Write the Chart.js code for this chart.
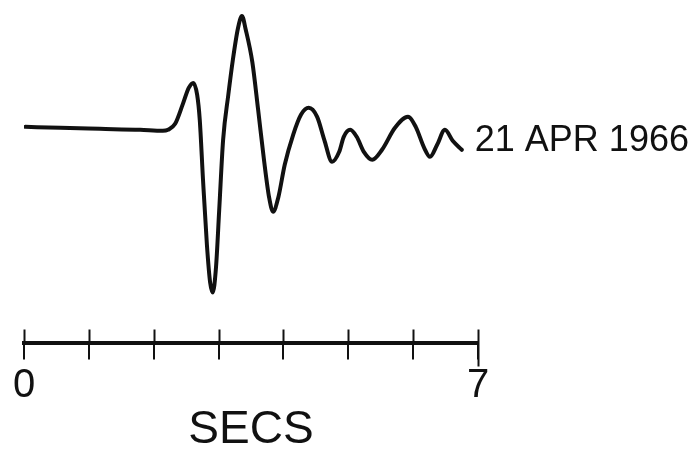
<!DOCTYPE html>
<html>
<head>
<meta charset="utf-8">
<script src="https://cdn.jsdelivr.net/npm/chart.js@4"></script>
<style>
  html, body { margin: 0; padding: 0; background: #ffffff; }
  #wrap { width: 698px; height: 454px; position: relative; }
</style>
</head>
<body>
<div id="wrap"><canvas id="c" width="698" height="454"></canvas></div>
<script>
// ---- data (time in seconds, amplitude in arbitrary units, baseline = 0)
const timeSecs = [0.02, 0.56, 1.17, 1.79, 2.14, 2.22, 2.33, 2.45, 2.54, 2.61, 2.67, 2.71, 2.76, 2.82, 2.87, 2.91,
  2.96, 3.01, 3.07, 3.15, 3.22, 3.30, 3.36, 3.42, 3.52, 3.61, 3.70, 3.78, 3.84, 3.92, 4.02, 4.15, 4.27, 4.39,
  4.52, 4.63, 4.75, 4.86, 4.93, 5.03, 5.13, 5.24, 5.37, 5.52, 5.72, 5.92, 6.04, 6.17, 6.26, 6.37, 6.49, 6.61, 6.75];
const amplitude = [1, 0, -1, -2, -3, -2, 4, 24, 40, 45, 33, 8, -52, -117, -155, -165,
  -140, -82, -12, 33, 68, 100, 112, 98, 66, 18, -32, -70, -84, -70, -37, -7, 13, 20,
  11, -12, -34, -24, -9, -2, -9, -24, -32, -22, 0, 11, 1, -20, -29, -17, -2, -13, -22];
const tickSeconds = [0, 1, 2, 3, 4, 5, 6, 7];
const tickLabels = ['0', '', '', '', '', '', '', '7'];
const eventLabel = '21 APR 1966';
const axisTitle = 'SECS';

const points = timeSecs.map((t, i) => ({ x: t, y: amplitude[i] }));

const scaleBarPlugin = {
  id: 'scaleBar',
  afterDraw(chart) {
    const ctx = chart.ctx;
    const xs = chart.scales.x;
    const ys = chart.scales.y;
    ctx.save();
    ctx.strokeStyle = '#111';
    ctx.lineWidth = 2;
    tickSeconds.forEach(v => {
      const px = Math.round(xs.getPixelForValue(v)) + 0.5;
      ctx.beginPath();
      ctx.moveTo(px, xs.top - 13);
      ctx.lineTo(px, xs.top + (v === 7 ? 24 : 0));
      ctx.stroke();
    });
    // event date label next to the end of the trace
    const last = points[points.length - 1];
    const lx = xs.getPixelForValue(last.x) + 13;
    const ly = ys.getPixelForValue(0) + 13;
    ctx.fillStyle = '#111';
    ctx.font = '36px "Liberation Sans", Arial, sans-serif';
    ctx.textBaseline = 'middle';
    ctx.textAlign = 'left';
    ctx.fillText(eventLabel, lx, ly);
    ctx.restore();
  }
};

new Chart(document.getElementById('c'), {
  type: 'line',
  data: {
    datasets: [{
      data: points,
      borderColor: '#111',
      borderWidth: 4,
      pointRadius: 0,
      fill: false,
      cubicInterpolationMode: 'monotone',
      borderCapStyle: 'round',
      borderJoinStyle: 'round'
    }]
  },
  options: {
    responsive: false,
    animation: false,
    devicePixelRatio: 1,
    layout: { padding: { left: 24, right: 220, top: 10, bottom: 1 } },
    plugins: { legend: { display: false }, tooltip: { enabled: false } },
    scales: {
      x: {
        type: 'linear',
        min: 0, max: 7,
        border: { display: true, color: '#111', width: 4 },
        grid: { drawOnChartArea: false, drawTicks: true, tickLength: 17, lineWidth: 2, color: '#111' },
        afterBuildTicks(scale) { scale.ticks = tickSeconds.map(v => ({ value: v })); },
        ticks: {
          autoSkip: false, maxRotation: 0, padding: 6, color: '#111',
          font: { family: '"Liberation Sans", Arial, sans-serif', size: 40, lineHeight: 1 },
          callback: (v, i) => tickLabels[tickSeconds.indexOf(v)] ?? ''
        },
        title: {
          display: true, text: axisTitle, color: '#111',
          font: { family: '"Liberation Sans", Arial, sans-serif', size: 46, lineHeight: 1 },
          padding: { top: -4.5, bottom: 0 }
        }
      },
      y: { display: false, min: -215, max: 118 }
    }
  },
  plugins: [scaleBarPlugin]
});
</script>
</body>
</html>
